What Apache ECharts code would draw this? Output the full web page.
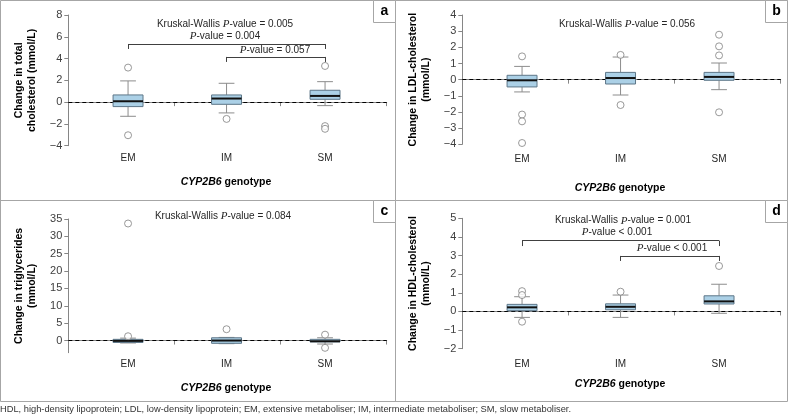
<!DOCTYPE html>
<html>
<head>
<meta charset="utf-8">
<script src="https://cdn.jsdelivr.net/npm/echarts@6/dist/echarts.min.js"></script>
<style>
html,body{margin:0;padding:0;background:#fff}
#chart{width:788px;height:418px}
</style>
</head>
<body>
<div id="chart"></div>
<script>
var categories = ['EM', 'IM', 'SM'];

// per genotype: [lower whisker, Q1, median, Q3, upper whisker]
var totalCholBox = [[-1.30, -0.41, 0.08, 0.66, 1.95], [-0.99, -0.20, 0.33, 0.66, 1.73], [-0.32, 0.26, 0.57, 1.09, 1.88]];
var totalCholOut = [[3.17, -3.04], [-1.54], [3.32, -2.20, -2.45]];
var ldlBox = [[-0.76, -0.45, -0.04, 0.27, 0.82], [-0.95, -0.27, 0.10, 0.45, 1.40], [-0.62, -0.04, 0.17, 0.45, 1.03]];
var ldlOut = [[1.44, -2.16, -2.58, -3.92], [1.53, -1.57], [2.78, 2.06, 1.50, -2.02]];
var trigBox = [[-0.7, -0.55, -0.1, 0.35, 0.7], [-0.9, -0.8, 0.0, 0.8, 0.9], [-1.0, -0.4, -0.2, 0.35, 0.8]];
var trigOut = [[33.7, 1.24], [3.26], [1.7, -2.1]];
var hdlBox = [[-0.32, 0.04, 0.22, 0.38, 0.79], [-0.32, 0.09, 0.25, 0.41, 0.88], [-0.10, 0.40, 0.54, 0.84, 1.46]];
var hdlOut = [[1.09, 0.88, -0.55], [1.06], [2.44]];

var totalCholTicks = [-4, -2, 0, 2, 4, 6, 8];
var ldlTicks = [-4, -3, -2, -1, 0, 1, 2, 3, 4];
var trigTicks = [0, 5, 10, 15, 20, 25, 30, 35];
var hdlTicks = [-2, -1, 0, 1, 2, 3, 4, 5];

var FONT = 'Liberation Sans, Arial, sans-serif';
var AXIS = '#868686';

var panels = [
    {box: totalCholBox, out: totalCholOut, ticks: totalCholTicks, min: -4, max: 8,
     left: 68.3, top: 15, height: 130.7, margin: 8,
     name: 'Change in total\ncholesterol (mmol/L)',
     brackets: [['EM', 'SM', 4.88, 5.34], ['IM', 'SM', 3.69, 4.15]]},
    {box: ldlBox, out: ldlOut, ticks: ldlTicks, min: -4, max: 4,
     left: 462.3, top: 15, height: 129.3, margin: 9.5,
     name: 'Change in LDL-cholesterol\n(mmol/L)', brackets: []},
    {box: trigBox, out: trigOut, ticks: trigTicks, min: -3.5, max: 35,
     left: 68.3, top: 219, height: 133.7, margin: 7,
     name: 'Change in triglycerides\n(mmol/L)', brackets: []},
    {box: hdlBox, out: hdlOut, ticks: hdlTicks, min: -2, max: 5,
     left: 462.3, top: 218.3, height: 130.4, margin: 11,
     name: 'Change in HDL-cholesterol\n(mmol/L)',
     brackets: [['EM', 'SM', 3.51, 3.80], ['IM', 'SM', 2.71, 2.98]]}
];

function minus(v) {
    return String(v).replace('-', '\u2212');
}

function drawBox(params, api) {
    var k = api.value(0);
    var p = [1, 2, 3, 4, 5].map(function (d) { return api.coord([k, api.value(d)]); });
    var band = api.size([1, 0])[0];
    var half = band * 0.152;
    var cap = band * 0.08;
    var x = p[0][0];
    var wk = {stroke: '#8c8c8c', lineWidth: 1};
    return {
        type: 'group',
        children: [
            {type: 'line', shape: {x1: x, y1: p[0][1], x2: x, y2: p[1][1]}, style: wk},
            {type: 'line', shape: {x1: x, y1: p[3][1], x2: x, y2: p[4][1]}, style: wk},
            {type: 'line', shape: {x1: x - cap, y1: p[0][1], x2: x + cap, y2: p[0][1]}, style: wk},
            {type: 'line', shape: {x1: x - cap, y1: p[4][1], x2: x + cap, y2: p[4][1]}, style: wk},
            {type: 'rect', shape: {x: x - half, y: p[3][1], width: 2 * half, height: p[1][1] - p[3][1]},
             style: {fill: '#abd0e6', stroke: '#5d7688', lineWidth: 1}},
            {type: 'line', shape: {x1: x - half, y1: p[2][1], x2: x + half, y2: p[2][1]},
             style: {stroke: '#111', lineWidth: 2}}
        ]
    };
}

var grids = [], xAxes = [], yAxes = [], series = [];

panels.forEach(function (pn, i) {
    var fi = 2 * i, di = 2 * i + 1;
    grids.push({left: pn.left, top: pn.top, width: 318.4, height: pn.height});
    grids.push({left: pn.left + 10.5, top: pn.top, width: 295.5, height: pn.height});

    xAxes.push({
        type: 'category', gridIndex: fi, data: categories,
        axisLine: {lineStyle: {color: AXIS}},
        axisTick: {show: true, length: 4, lineStyle: {color: AXIS}},
        axisLabel: {show: false}
    });
    xAxes.push({
        type: 'category', gridIndex: di, data: categories,
        axisLine: {show: false}, axisTick: {show: false},
        axisLabel: {color: '#262626', fontSize: 10, fontFamily: FONT, margin: pn.margin}
    });
    yAxes.push({
        type: 'value', gridIndex: fi, min: pn.min, max: pn.max,
        axisLine: {show: true, lineStyle: {color: AXIS}},
        axisTick: {show: true, length: 4, customValues: pn.ticks, lineStyle: {color: AXIS}},
        axisLabel: {customValues: pn.ticks, formatter: minus, color: '#404040', fontSize: 11, fontFamily: FONT, margin: 6},
        splitLine: {show: false},
        name: pn.name, nameLocation: 'middle', nameRotate: 90, nameGap: 30,
        nameTextStyle: {fontWeight: 'bold', fontSize: 10.5, fontFamily: FONT, color: '#000', lineHeight: 13}
    });
    yAxes.push({type: 'value', gridIndex: di, min: pn.min, max: pn.max, show: false});

    series.push({
        type: 'line', xAxisIndex: fi, yAxisIndex: fi, data: [], silent: true,
        markLine: {
            silent: true, symbol: 'none', label: {show: false},
            lineStyle: {color: '#000', type: [4, 3], width: 1},
            data: [{yAxis: 0}]
        }
    });

    var bracketLines = [];
    pn.brackets.forEach(function (b) {
        bracketLines.push([{coord: [b[0], b[2]]}, {coord: [b[0], b[3]]}]);
        bracketLines.push([{coord: [b[0], b[3]]}, {coord: [b[1], b[3]]}]);
        bracketLines.push([{coord: [b[1], b[3]]}, {coord: [b[1], b[2]]}]);
    });

    series.push({
        type: 'custom', xAxisIndex: di, yAxisIndex: di, z: 5,
        data: pn.box.map(function (b, k) { return [k].concat(b); }),
        encode: {x: 0, y: [1, 2, 3, 4, 5]},
        renderItem: drawBox,
        markLine: {
            silent: true, symbol: 'none', label: {show: false}, animation: false,
            lineStyle: {color: '#404040', type: 'solid', width: 1},
            data: bracketLines
        }
    });

    var pts = [];
    pn.out.forEach(function (vals, k) {
        vals.forEach(function (v) { pts.push([k, v]); });
    });
    series.push({
        type: 'scatter', xAxisIndex: di, yAxisIndex: di, z: 6, data: pts,
        symbol: 'circle', symbolSize: 7,
        itemStyle: {color: '#fff', borderColor: '#7f7f7f', borderWidth: 1}
    });
});

var rich = {
    n: {fontFamily: FONT, fontSize: 10, fill: '#262626', color: '#262626'},
    i: {fontFamily: 'Liberation Serif, Times New Roman, serif', fontStyle: 'italic', fontSize: 11, fill: '#262626', color: '#262626'}
};
function pText(x, y, rest, prefix) {
    return {
        type: 'text', x: x, y: y, z: 10,
        style: {
            text: (prefix ? '{n|' + prefix + '}' : '') + '{i|P}{n|' + rest + '}',
            rich: rich, align: 'center', verticalAlign: 'middle'
        }
    };
}
function xTitle(x, y) {
    return {
        type: 'text', x: x, y: y, z: 10,
        style: {
            text: '{a|CYP2B6}{b| genotype}', align: 'center', verticalAlign: 'middle',
            rich: {
                a: {fontFamily: FONT, fontWeight: 'bold', fontStyle: 'italic', fontSize: 10.5, fill: '#000', color: '#000'},
                b: {fontFamily: FONT, fontWeight: 'bold', fontSize: 10.5, fill: '#000', color: '#000'}
            }
        }
    };
}
function letterBox(x, y, t) {
    return [
        {type: 'rect', shape: {x: x, y: y, width: 22, height: 22}, z: 10,
         style: {fill: '#fff', stroke: '#a6a6a6', lineWidth: 1}},
        {type: 'text', x: x + 11, y: y + 11, z: 11,
         style: {text: t, font: 'bold 14px ' + FONT, fill: '#000', align: 'center', verticalAlign: 'middle'}}
    ];
}
var frameLine = {stroke: '#a6a6a6', lineWidth: 1};

var graphics = [
    {type: 'rect', shape: {x: 0.5, y: 0.5, width: 787, height: 401}, style: {fill: null, stroke: '#a6a6a6', lineWidth: 1}},
    {type: 'line', shape: {x1: 395.5, y1: 0, x2: 395.5, y2: 402}, style: frameLine},
    {type: 'line', shape: {x1: 0, y1: 200.5, x2: 788, y2: 200.5}, style: frameLine},
    pText(225, 24, '-value = 0.005', 'Kruskal-Wallis '),
    pText(225, 36, '-value = 0.004'),
    pText(275, 50, '-value = 0.057'),
    pText(627, 24, '-value = 0.056', 'Kruskal-Wallis '),
    pText(223, 216, '-value = 0.084', 'Kruskal-Wallis '),
    pText(623, 220.7, '-value = 0.001', 'Kruskal-Wallis '),
    pText(617, 232.3, '-value < 0.001'),
    pText(672, 248.3, '-value < 0.001'),
    xTitle(226, 182), xTitle(620, 188), xTitle(226, 387.7), xTitle(620, 384.3),
    {type: 'text', x: 0, y: 409, style: {
        text: 'HDL, high-density lipoprotein; LDL, low-density lipoprotein; EM, extensive metaboliser; IM, intermediate metaboliser; SM, slow metaboliser.',
        font: '9.3px ' + FONT, fill: '#333', align: 'left', verticalAlign: 'middle'}}
].concat(letterBox(373.5, 0.5, 'a'), letterBox(765.5, 0.5, 'b'),
         letterBox(373.5, 200.5, 'c'), letterBox(765.5, 200.5, 'd'));

var myChart = echarts.init(document.getElementById('chart'));
myChart.setOption({
    animation: false,
    grid: grids,
    xAxis: xAxes,
    yAxis: yAxes,
    series: series,
    graphic: graphics
});
</script>
</body>
</html>
